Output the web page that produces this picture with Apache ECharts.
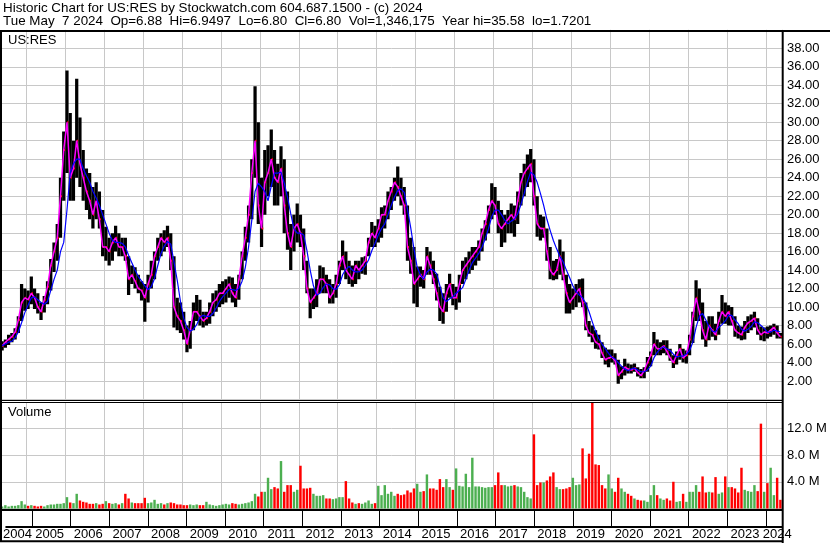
<!DOCTYPE html>
<html>
<head>
<meta charset="utf-8">
<script src="https://cdn.jsdelivr.net/npm/echarts@6/dist/echarts.min.js"></script>
<style>
  html, body { margin: 0; padding: 0; background: #fff; }
  #chart { width: 830px; height: 543px; }
</style>
</head>
<body>
<div id="chart"></div>
<script>
// Monthly data, May 2004 .. May 2024 (one entry per month)
const firstYear = 2004, firstMonth = 5;

const highs = [
  6.3, 6.5, 7.0, 7.2, 7.7, 9.0, 12.5, 12.0,
  11.8, 13.3, 12.0, 11.5, 10.5, 11.2, 12.8, 15.2, 17.0, 19.0, 24.0, 29.0,
  35.6, 31.0, 28.0, 34.7, 30.5, 27.0, 25.0, 24.5, 23.0, 23.5, 22.5, 20.5,
  18.7, 17.5, 18.0, 18.8, 18.0, 17.5, 17.5, 15.5, 14.5, 14.3, 13.5, 12.8,
  12.5, 13.5, 15.0, 16.0, 17.5, 18.0, 18.3, 18.8, 18.0, 15.5, 11.0, 10.5,
  9.5, 8.0, 8.5, 10.5, 11.3, 10.8, 9.5, 9.5, 10.5, 11.5, 11.8, 12.5,
  12.8, 13.0, 13.3, 13.2, 12.5, 13.5, 16.0, 18.7, 21.0, 26.0, 33.9, 30.0,
  24.0, 27.0, 27.5, 29.2, 27.0, 25.5, 27.4, 26.0, 22.5, 19.0, 20.0, 21.2,
  20.0, 18.5, 15.0, 12.0, 12.0, 13.0, 14.5, 14.3, 13.5, 13.0, 12.5, 13.5,
  15.0, 17.2, 16.0, 15.0, 14.5, 15.0, 15.0, 15.4, 15.5, 17.5, 19.2, 18.8,
  19.5, 20.8, 21.0, 22.5, 23.0, 24.0, 25.2, 24.0, 23.0, 21.0, 17.5, 16.5,
  14.4, 14.4, 14.0, 16.5, 16.0, 15.0, 13.6, 12.2, 11.5, 12.5, 13.6, 12.5,
  12.2, 13.5, 15.0, 15.4, 16.0, 16.5, 16.5, 17.2, 18.5, 19.4, 21.0, 23.4,
  23.0, 21.5, 20.5, 20.0, 20.5, 21.2, 21.0, 22.5, 24.5, 25.5, 26.5, 27.1,
  26.0, 22.0, 20.0, 19.8, 18.5, 16.5, 15.0, 15.2, 17.3, 16.0, 13.5, 12.5,
  12.0, 12.5, 13.0, 13.1, 10.5, 8.5, 8.0, 7.5, 7.0, 6.2, 5.6, 5.4,
  5.4, 5.0, 4.3, 3.6, 4.4, 3.9, 3.8, 3.9, 3.5, 3.3, 3.5, 4.6,
  5.2, 7.3, 6.5, 6.2, 6.4, 6.4, 5.5, 4.8, 5.2, 6.0, 5.5, 5.3,
  7.0, 9.5, 12.9, 12.0, 10.5, 8.5, 9.0, 9.0, 8.2, 9.5, 11.3, 10.5,
  10.2, 10.0, 9.0, 8.0, 7.9, 8.5, 9.0, 9.2, 9.5, 8.8, 7.9, 7.8,
  7.9, 8.0, 8.2, 8.0, 7.2
];

const lows = [
  5.3, 5.6, 5.9, 6.2, 6.5, 7.2, 8.5, 9.6,
  9.8, 10.3, 9.8, 9.3, 8.6, 9.4, 10.3, 11.8, 13.8, 15.0, 17.5, 21.5,
  24.5, 21.5, 21.5, 24.0, 23.0, 21.5, 20.5, 19.5, 18.5, 19.5, 18.5, 15.5,
  15.0, 14.5, 15.0, 16.0, 15.5, 15.5, 15.0, 11.3, 12.5, 12.0, 11.5, 10.7,
  8.4, 10.5, 12.0, 13.0, 15.0, 15.5, 16.0, 16.5, 14.0, 7.8, 7.5, 7.2,
  6.5, 5.1, 5.5, 7.5, 8.5, 8.0, 7.8, 8.0, 8.2, 9.0, 9.5, 10.0,
  10.3, 10.5, 11.0, 10.5, 10.0, 10.8, 13.0, 15.0, 17.0, 19.5, 24.0, 19.0,
  16.5, 20.0, 22.0, 23.0, 21.0, 21.0, 22.0, 18.0, 16.2, 14.0, 16.0, 17.0,
  16.5, 14.0, 11.5, 8.8, 9.8, 10.0, 11.5, 11.5, 11.5, 10.4, 10.4, 11.0,
  12.5, 14.0, 13.0, 12.5, 12.2, 12.5, 13.0, 13.6, 13.5, 15.5, 16.5, 16.5,
  17.0, 17.5, 18.5, 19.5, 20.5, 21.5, 22.0, 21.0, 20.0, 15.0, 13.6, 10.4,
  10.0, 12.2, 12.0, 13.5, 13.5, 12.5, 10.7, 8.5, 8.2, 9.5, 11.0, 10.2,
  9.7, 10.5, 12.5, 13.0, 13.6, 14.0, 14.5, 15.0, 16.0, 17.2, 18.0, 19.5,
  20.0, 18.0, 16.5, 17.0, 18.0, 18.0, 17.6, 19.0, 21.0, 22.0, 23.0, 23.5,
  21.0, 17.6, 17.2, 17.5, 15.0, 13.0, 12.9, 13.0, 13.5, 12.9, 9.3, 9.3,
  9.7, 10.0, 10.5, 10.0, 7.5, 6.8, 6.2, 5.5, 5.4, 4.5, 3.8, 3.5,
  4.0, 3.8, 1.7, 2.2, 2.6, 2.8, 2.8, 3.0, 2.5, 2.3, 2.3, 3.0,
  3.6, 4.8, 4.8, 4.8, 5.0, 4.8, 4.2, 3.4, 3.8, 4.3, 4.0, 3.9,
  4.8, 6.1, 8.5, 8.5, 6.5, 5.7, 6.4, 6.8, 6.4, 7.0, 8.2, 8.2,
  8.0, 8.0, 6.8, 6.6, 6.4, 6.5, 7.2, 7.5, 7.8, 7.0, 6.4, 6.3,
  6.6, 6.8, 7.0, 6.6, 6.6
];

const closes = [
  5.8, 6.2, 6.5, 6.8, 7.3, 8.6, 10.5, 11.0,
  10.8, 11.5, 11.0, 10.0, 9.5, 10.8, 12.2, 14.5, 16.0, 17.5, 22.0, 27.0,
  30.0, 24.0, 25.0, 28.0, 25.5, 24.0, 22.5, 21.5, 20.0, 21.5, 19.5, 16.5,
  16.5, 16.0, 17.0, 17.5, 16.5, 16.5, 15.5, 13.0, 13.5, 12.8, 12.0, 11.8,
  11.0, 12.5, 13.5, 15.5, 16.5, 17.5, 17.0, 17.5, 15.0, 10.0, 9.0, 8.5,
  7.5, 6.0, 7.5, 9.5, 9.5, 9.0, 8.5, 8.8, 9.5, 10.5, 10.8, 11.5,
  11.5, 12.0, 12.5, 11.5, 11.0, 13.0, 15.5, 17.5, 20.0, 24.5, 28.0, 21.0,
  18.5, 23.5, 24.5, 26.0, 24.0, 23.5, 25.0, 21.0, 18.0, 16.5, 18.5, 19.0,
  18.0, 15.5, 12.0, 10.5, 11.0, 11.5, 13.0, 13.0, 12.5, 11.0, 11.5, 12.5,
  14.5, 15.5, 14.0, 13.5, 13.0, 14.5, 14.0, 14.5, 15.0, 17.0, 18.0, 17.5,
  18.5, 20.0, 20.0, 21.5, 22.5, 23.5, 23.0, 22.0, 21.0, 16.5, 15.0, 12.5,
  13.0, 13.5, 13.0, 15.5, 14.5, 13.0, 11.5, 10.0, 9.5, 11.5, 12.5, 11.0,
  11.0, 12.5, 14.0, 14.5, 15.0, 15.5, 16.0, 16.5, 18.0, 19.0, 20.5, 21.5,
  21.0, 19.0, 18.5, 19.0, 19.5, 20.0, 19.5, 21.5, 23.5, 24.5, 25.0, 25.5,
  22.0, 19.0, 18.5, 18.5, 16.0, 14.0, 13.5, 14.0, 15.5, 13.5, 11.5, 10.5,
  11.0, 11.5, 12.0, 10.5, 8.0, 7.2, 7.0, 6.2, 6.0, 5.0, 4.3, 4.5,
  4.6, 4.2, 2.6, 3.0, 3.5, 3.3, 3.2, 3.4, 2.9, 2.6, 3.1, 4.0,
  4.8, 6.0, 5.5, 5.5, 5.8, 5.2, 4.5, 4.0, 4.8, 5.5, 4.5, 4.8,
  6.5, 9.0, 11.0, 9.5, 7.5, 6.5, 8.0, 7.5, 7.0, 8.5, 9.5, 9.0,
  9.5, 8.5, 7.5, 7.2, 7.0, 7.8, 8.3, 8.5, 8.8, 7.5, 7.0, 7.3,
  7.2, 7.5, 7.8, 7.2, 6.8
];

// slower moving average (blue line)
const slowAvg = [
  5.8, 6.0, 6.2, 6.3, 6.7, 7.3, 8.3, 9.4,
  10.2, 11.0, 11.1, 10.8, 10.5, 10.3, 10.6, 11.8, 13.0, 14.0, 16.0, 17.0,
  20.5, 24.5, 25.5, 26.0, 26.0, 25.0, 24.2, 23.5, 22.5, 21.8, 21.0, 20.0,
  19.0, 18.0, 17.2, 17.0, 17.0, 16.9, 16.5, 15.6, 14.8, 14.0, 13.3, 12.8,
  12.3, 11.9, 12.2, 13.1, 14.5, 15.8, 16.6, 17.1, 16.8, 14.9, 12.9, 10.6,
  8.8, 7.8, 7.4, 7.6, 8.1, 8.9, 9.1, 9.0, 9.0, 9.3, 9.9, 10.6,
  11.1, 11.5, 11.9, 11.9, 11.8, 12.0, 12.8, 14.3, 16.5, 19.4, 22.5, 23.4,
  23.0, 22.5, 21.5, 23.1, 24.5, 24.5, 24.6, 23.4, 21.9, 20.1, 18.5, 18.0,
  18.0, 17.8, 16.1, 14.0, 12.3, 11.3, 11.5, 12.1, 12.5, 12.4, 12.0, 11.9,
  12.4, 13.5, 14.1, 14.4, 14.0, 13.8, 13.8, 14.0, 14.5, 15.1, 16.1, 16.9,
  17.8, 18.5, 19.0, 20.0, 21.0, 21.9, 22.6, 22.8, 22.4, 20.6, 18.6, 16.3,
  14.3, 13.5, 13.0, 13.8, 14.1, 14.0, 13.6, 12.3, 11.0, 10.6, 10.9, 11.1,
  11.5, 11.8, 12.1, 13.0, 14.0, 14.8, 15.3, 15.8, 16.5, 17.4, 18.5, 19.8,
  20.5, 20.5, 20.0, 19.4, 19.0, 19.3, 19.5, 20.1, 21.1, 22.3, 23.6, 24.6,
  24.3, 23.5, 22.3, 21.0, 19.5, 18.3, 17.2, 16.3, 15.5, 14.9, 14.0, 13.2,
  12.3, 11.7, 11.3, 11.0, 10.4, 9.5, 8.4, 7.4, 6.6, 6.0, 5.5, 5.0,
  4.6, 4.4, 4.0, 3.6, 3.3, 3.1, 3.3, 3.4, 3.2, 3.0, 3.0, 3.2,
  3.6, 4.5, 5.1, 5.5, 5.7, 5.5, 5.3, 4.9, 4.6, 4.7, 4.7, 4.9,
  5.3, 6.2, 7.8, 9.0, 9.3, 8.6, 7.9, 7.4, 7.3, 7.8, 8.1, 8.5,
  9.1, 9.1, 8.6, 8.2, 7.6, 7.4, 7.6, 7.9, 8.4, 8.3, 8.0, 7.7,
  7.3, 7.3, 7.5, 7.4, 7.3
];

// volume in millions
const volumes = [
  0.3, 0.5, 0.3, 0.4, 0.4, 0.5, 1.1, 0.6,
  0.4, 0.5, 0.4, 0.3, 0.4, 0.3, 0.5, 0.6, 0.6, 0.7, 0.7, 0.8,
  1.7, 0.9, 0.8, 2.2, 1.2, 1.0, 0.9, 0.7, 0.7, 0.8, 0.6, 0.7,
  1.1, 0.8, 0.7, 0.8, 0.6, 0.8, 2.2, 1.5, 0.9, 0.8, 0.8, 0.8,
  1.6, 0.8, 0.9, 1.3, 0.7, 0.8, 0.6, 0.8, 0.9, 0.8, 0.6, 0.6,
  0.5, 0.5, 0.6, 0.5, 0.6, 0.5, 0.5, 1.0, 0.6, 0.5, 0.4, 0.5,
  0.6, 0.7, 0.6, 0.8, 0.7, 0.6, 0.7, 0.8, 0.9, 1.1, 2.2, 1.8,
  2.5, 2.5, 4.6, 2.9, 3.2, 3.0, 7.1, 2.5, 3.5, 3.5, 2.5, 2.8,
  6.4, 3.0, 3.0, 3.1, 2.2, 1.9, 1.9, 2.0, 1.5, 1.5, 1.4, 1.5,
  1.7, 1.7, 4.1, 1.5, 0.9, 0.7, 0.8, 0.7, 0.9, 1.2, 0.7, 0.8,
  3.4, 2.0, 3.5, 2.2, 2.5, 1.9, 2.2, 2.0, 2.1, 2.7, 2.4, 3.0,
  3.7, 2.5, 2.6, 5.1, 3.0, 3.0, 2.8, 4.4, 3.2, 4.4, 3.2, 2.8,
  6.0, 3.4, 3.3, 5.2, 3.2, 7.6, 3.3, 3.3, 3.2, 3.1, 3.2, 3.2,
  3.5, 5.4, 3.5, 3.5, 3.3, 3.4, 3.5, 3.3, 3.2, 2.5, 1.7, 1.5,
  11.1, 3.5, 3.9, 3.9, 4.2, 4.8, 5.4, 3.2, 2.9, 2.9, 3.0, 3.2,
  4.6, 3.5, 3.6, 9.0, 4.5, 8.2, 16.5, 6.6, 6.5, 3.5, 3.0, 5.1,
  3.0, 2.5, 4.6, 3.0, 2.5, 2.2, 1.9, 1.5, 1.3, 1.2, 1.2, 1.0,
  2.0, 3.5, 2.0, 1.5, 1.3, 1.5, 1.2, 4.0, 1.0, 1.1, 2.2, 1.0,
  2.5, 2.5, 3.5, 2.5, 4.8, 2.4, 2.5, 2.4, 4.7, 2.2, 2.4, 4.8,
  3.2, 3.2, 3.0, 2.4, 6.1, 2.8, 2.6, 2.5, 3.5, 2.6, 12.7, 2.5,
  3.8, 6.1, 2.0, 4.6, 1.3
];

const titleLine1 = 'Historic Chart for US:RES by Stockwatch.com 604.687.1500 - (c) 2024';
const titleLine2 = 'Tue May  7 2024  Op=6.88  Hi=6.9497  Lo=6.80  Cl=6.80  Vol=1,346,175  Year hi=35.58  lo=1.7201';
const symbolLabel = 'US:RES';
const volumeLabel = 'Volume';

// month categories
const months = highs.map((_, i) => {
  const t = firstYear * 12 + (firstMonth - 1) + i;
  return Math.floor(t / 12) + '-' + String(t % 12 + 1).padStart(2, '0');
});

const FONT = 'Liberation Sans, Arial, sans-serif';
const GRID_LINE = '#c8c8c8';
const RED = '#ff0000';
const GREEN = '#4caf50';

const isYearStart = (idx, val) => val.endsWith('-01');
const isYearLabel = (idx, val) =>
  val === '2004-08' || val === '2024-04' || (val.endsWith('-06') && val !== '2004-06');

const ohlcData = months.map((m, i) => [i, lows[i], highs[i], closes[i]]);
const volData = volumes.map((v, i) => ({
  value: v,
  itemStyle: { color: i === 0 || closes[i] >= closes[i - 1] ? GREEN : RED }
}));

const chart = echarts.init(document.getElementById('chart'), null, { renderer: 'canvas' });

const textStyle = { fontFamily: FONT, fontSize: 13, fontWeight: 'normal', color: '#000' };
const headStyle = { fontFamily: FONT, fontSize: 13.4, fontWeight: 'normal', color: '#000' };

const hLine = (x1, x2, y, w) => ({ type: 'line', z: 100, silent: true,
  shape: { x1, y1: y, x2, y2: y }, style: { stroke: '#000', lineWidth: w } });
const vLine = (x, y1, y2, w) => ({ type: 'line', z: 100, silent: true,
  shape: { x1: x, y1, x2: x, y2 }, style: { stroke: '#000', lineWidth: w } });

chart.setOption({
  animation: false,
  backgroundColor: '#fff',
  title: [
    { text: titleLine1, left: 3, top: 2, padding: 0, textStyle: headStyle },
    { text: titleLine2, left: 3, top: 14.5, padding: 0, textStyle: headStyle },
    { text: symbolLabel, left: 8, top: 34, padding: 0, textStyle },
    { text: volumeLabel, left: 8, top: 406, padding: 0, textStyle }
  ],
  grid: [
    { left: 0.5, top: 29.8, width: 781.5, height: 369.7 },
    { left: 0.5, top: 402, width: 781.5, height: 106.5 },
    { left: 0.5, top: 510, width: 781.5, height: 17 }
  ],
  xAxis: [
    { type: 'category', gridIndex: 0, data: months, boundaryGap: true,
      axisLine: { show: false }, axisTick: { show: false }, axisLabel: { show: false },
      splitLine: { show: true, interval: isYearStart, lineStyle: { color: GRID_LINE, width: 1 } } },
    { type: 'category', gridIndex: 1, data: months, boundaryGap: true,
      axisLine: { show: false }, axisTick: { show: false }, axisLabel: { show: false },
      splitLine: { show: true, interval: isYearStart, lineStyle: { color: GRID_LINE, width: 1 } } },
    { type: 'category', gridIndex: 2, data: months, boundaryGap: true, position: 'bottom',
      axisLine: { show: true, lineStyle: { color: '#000', width: 2 } },
      axisTick: { show: true, inside: true, length: 17, interval: isYearStart,
        lineStyle: { color: '#000', width: 1 } },
      axisLabel: { show: true, interval: isYearLabel, margin: 1,
        formatter: v => v.slice(0, 4), fontFamily: FONT, fontSize: 13, color: '#000' },
      splitLine: { show: false } }
  ],
  yAxis: [
    { type: 'value', gridIndex: 0, position: 'right', min: 0, max: 40, interval: 2,
      axisLine: { show: false }, axisTick: { show: false },
      axisLabel: { show: true, margin: 5, showMinLabel: false, showMaxLabel: false,
        formatter: v => v.toFixed(2), fontFamily: FONT, fontSize: 13, color: '#000' },
      splitLine: { show: true, lineStyle: { color: GRID_LINE, width: 1 } } },
    { type: 'value', gridIndex: 1, position: 'right', min: 0, max: 15.94, interval: 4,
      axisLine: { show: false }, axisTick: { show: false },
      axisLabel: { show: true, margin: 5, showMinLabel: false, showMaxLabel: false,
        formatter: v => v.toFixed(1) + ' M', fontFamily: FONT, fontSize: 13, color: '#000' },
      splitLine: { show: true, lineStyle: { color: GRID_LINE, width: 1 } } },
    { type: 'value', gridIndex: 2, show: false, min: 0, max: 1 }
  ],
  series: [
    {
      type: 'custom', name: 'price', xAxisIndex: 0, yAxisIndex: 0, clip: true, z: 2,
      data: ohlcData,
      encode: { x: 0, y: [1, 2, 3] },
      renderItem: function (params, api) {
        const i = api.value(0);
        const lo = api.coord([i, api.value(1)]);
        const hi = api.coord([i, api.value(2)]);
        const cl = api.coord([i, api.value(3)]);
        const bw = api.size([1, 0])[0];
        const w = bw;
        return {
          type: 'group',
          children: [
            { type: 'rect', shape: { x: hi[0] - w / 2, y: hi[1], width: w, height: Math.max(1, lo[1] - hi[1]) },
              style: { fill: '#000' } },
            { type: 'rect', shape: { x: cl[0] + w / 2 - 1.4, y: cl[1] - 1, width: 1.5, height: 2 },
              style: { fill: RED } }
          ]
        };
      }
    },
    {
      type: 'line', name: 'fast', xAxisIndex: 0, yAxisIndex: 0, data: closes, z: 4,
      showSymbol: false, symbol: 'none', smooth: false,
      lineStyle: { color: '#ff00ff', width: 1.5 }
    },
    {
      type: 'line', name: 'slow', xAxisIndex: 0, yAxisIndex: 0, data: slowAvg, z: 5,
      showSymbol: false, symbol: 'none', smooth: false,
      lineStyle: { color: '#0000ff', width: 1.2 }
    },
    {
      type: 'bar', name: 'volume', xAxisIndex: 1, yAxisIndex: 1, data: volData,
      barWidth: '75%', clip: true
    }
  ],
  graphic: [
    hLine(0, 830, 31, 2),
    hLine(0, 782, 400.5, 1),
    hLine(0, 782, 402.5, 1),
    hLine(0, 782, 510, 2),
    hLine(0, 782, 541.2, 2),
    vLine(1, 30, 542, 2),
    vLine(782.7, 30, 543, 2)
  ]
});
</script>
</body>
</html>
